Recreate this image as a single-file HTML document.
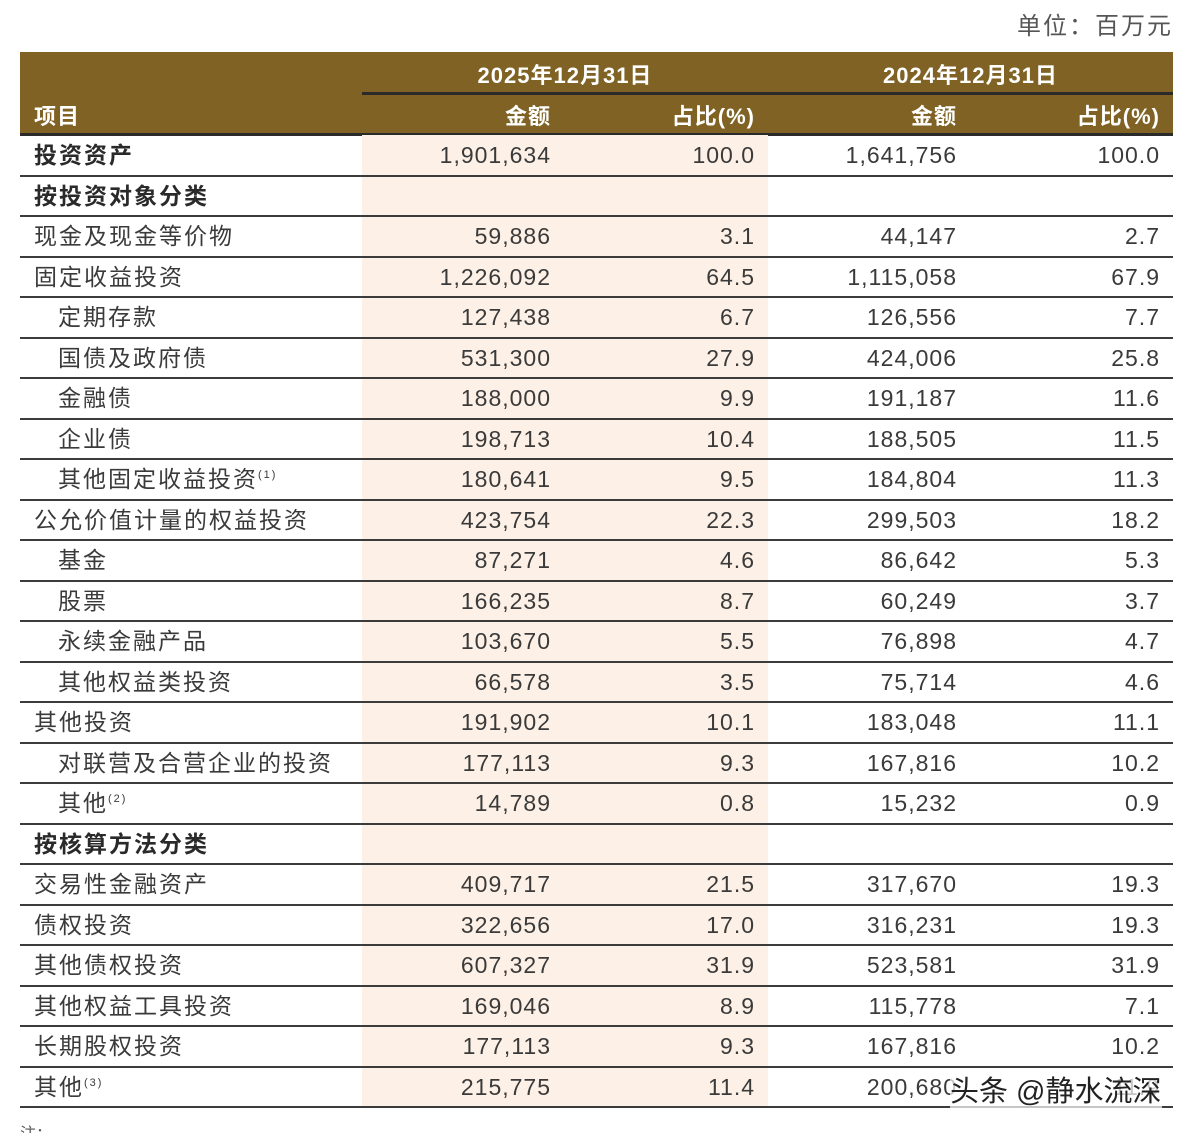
<!DOCTYPE html>
<html><head><meta charset="utf-8">
<style>
html,body{margin:0;padding:0;background:#fff;width:1199px;height:1133px;overflow:hidden;position:relative;font-family:"Liberation Sans","Noto Sans CJK SC",sans-serif;color:#3a3a3a}
.abs{position:absolute}
#hdr{left:20px;top:52px;width:1153px;height:83px;background:#7f6224}
.ht{color:#fff;font-weight:bold;font-size:22px;letter-spacing:1px;white-space:nowrap}
#peach{left:362px;top:135px;width:406px;height:972px;background:#fdf1e7}
.line{left:20px;width:1153px;height:2px;background:#3c3c3c}
.cell{font-size:23px;white-space:nowrap;line-height:40px;height:40px}
.lab{letter-spacing:2px}
.num{text-align:right;letter-spacing:1px}
sup{font-size:11px;vertical-align:top;position:relative;top:-4px}
</style></head><body>
<div class="abs" style="right:26px;top:6px;font-size:24px;color:#555;letter-spacing:2px">单位：百万元</div>
<div id="hdr" class="abs"></div>
<div class="abs" style="left:362px;top:92px;width:811px;height:3px;background:#2a2a2a"></div>
<div class="abs ht" style="left:362px;width:406px;top:58px;text-align:center">2025年12月31日</div>
<div class="abs ht" style="left:768px;width:405px;top:58px;text-align:center">2024年12月31日</div>
<div class="abs ht" style="left:34px;top:99px">项目</div>
<div class="abs ht" style="right:648px;top:99px">金额</div>
<div class="abs ht" style="right:444px;top:99px">占比(%)</div>
<div class="abs ht" style="right:242px;top:99px">金额</div>
<div class="abs ht" style="right:39px;top:99px">占比(%)</div>
<div class="abs" style="left:20px;top:133px;width:1153px;height:3px;background:#2a2a2a"></div>
<div id="peach" class="abs"></div>
<div id="rows"></div>
<div class="abs" style="left:950px;top:1068px;font-size:29px;color:#222;background:rgba(255,255,255,0.7);white-space:nowrap">头条 @静水流深</div>
<div class="abs" style="left:20px;top:1120px;font-size:16px;color:#555">注：</div>
<script>
const labels=["投资资产","按投资对象分类","现金及现金等价物","固定收益投资","定期存款","国债及政府债","金融债","企业债","其他固定收益投资<sup>(1)</sup>","公允价值计量的权益投资","基金","股票","永续金融产品","其他权益类投资","其他投资","对联营及合营企业的投资","其他<sup>(2)</sup>","按核算方法分类","交易性金融资产","债权投资","其他债权投资","其他权益工具投资","长期股权投资","其他<sup>(3)</sup>"];
const indent=[0,0,0,0,1,1,1,1,1,0,1,1,1,1,0,1,1,0,0,0,0,0,0,0];
const bold=[1,1,0,0,0,0,0,0,0,0,0,0,0,0,0,0,0,1,0,0,0,0,0,0];
const amt2025=["1,901,634","","59,886","1,226,092","127,438","531,300","188,000","198,713","180,641","423,754","87,271","166,235","103,670","66,578","191,902","177,113","14,789","","409,717","322,656","607,327","169,046","177,113","215,775"];
const pct2025=["100.0","","3.1","64.5","6.7","27.9","9.9","10.4","9.5","22.3","4.6","8.7","5.5","3.5","10.1","9.3","0.8","","21.5","17.0","31.9","8.9","9.3","11.4"];
const amt2024=["1,641,756","","44,147","1,115,058","126,556","424,006","191,187","188,505","184,804","299,503","86,642","60,249","76,898","75,714","183,048","167,816","15,232","","317,670","316,231","523,581","115,778","167,816","200,680"];
const pct2024=["100.0","","2.7","67.9","7.7","25.8","11.6","11.5","11.3","18.2","5.3","3.7","4.7","4.6","11.1","10.2","0.9","","19.3","19.3","31.9","7.1","10.2","11.9"];
const R=document.getElementById('rows');
const rowH=40.5, top0=135;
function mk(cls,style,html){const d=document.createElement('div');d.className='abs '+cls;d.setAttribute('style',style);d.innerHTML=html;R.appendChild(d);return d;}
labels.forEach((lab,i)=>{
  const y=top0+i*rowH;
  const l=mk('cell lab',`left:${34+indent[i]*24}px;top:${y}px;font-weight:${bold[i]?'bold':'normal'};color:${bold[i]?'#2a2a2a':'#3a3a3a'}`,lab);
  
  
  const a=mk('cell num',`right:648px;top:${y}px`,amt2025[i]);
  
  
  const p=mk('cell num',`right:444px;top:${y}px`,pct2025[i]);
  
  
  const b=mk('cell num',`right:242px;top:${y}px`,amt2024[i]);
  
  
  const q=mk('cell num',`right:39px;top:${y}px`,pct2024[i]);
  
  
  const ln=mk('line',`top:${y+rowH-1}px`,'');
  
  
});
</script>
</body></html>
